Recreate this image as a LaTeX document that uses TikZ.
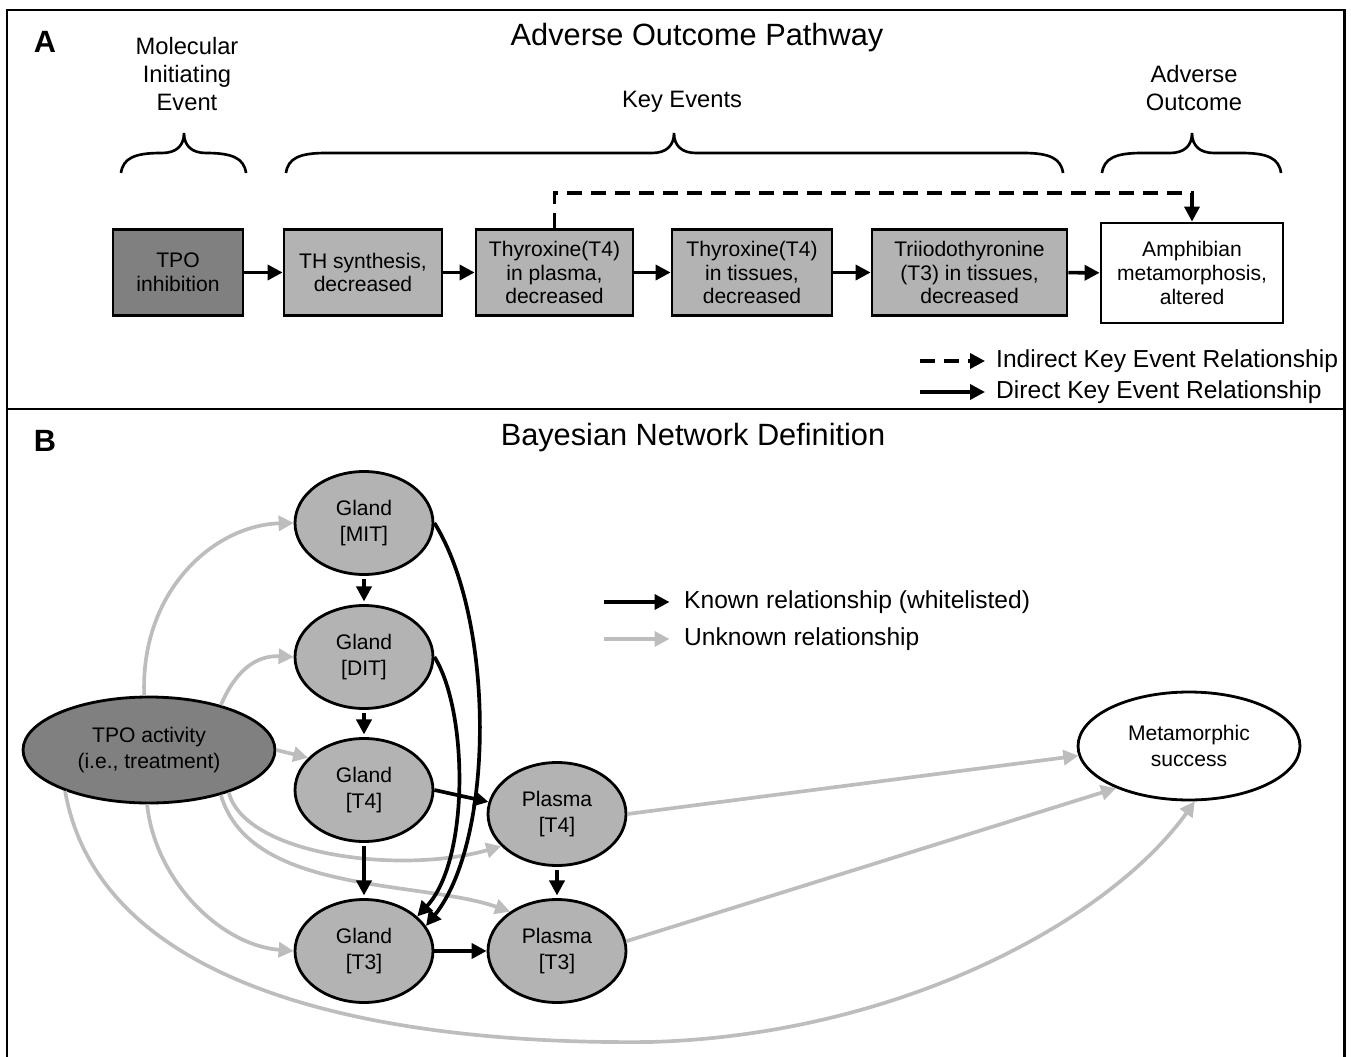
\documentclass[tikz,border=0pt]{standalone}
\usepackage{fontspec}
\setmainfont{Liberation Sans}
\usetikzlibrary{arrows.meta,shapes.geometric}
\definecolor{darkfill}{HTML}{808080}
\definecolor{lightfill}{HTML}{B3B3B3}
\definecolor{unkgray}{HTML}{BDBDBD}
% curly brace: left end, tip, right end
\newcommand{\curly}[3]{%
  \draw[line width=1.5pt] (#1,173) .. controls (#1+2,158) and (#1+14,153) .. (#1+40,153)
    -- (#2-22,153) .. controls (#2-8,153) and (#2,146) .. (#2,133)
    .. controls (#2,146) and (#2+8,153) .. (#2+22,153)
    -- (#3-40,153) .. controls (#3-14,153) and (#3-2,158) .. (#3,173);}
\begin{document}
\begin{tikzpicture}[x=0.02cm, y=-0.02cm,
    box/.style={draw, line width=1.6pt, fill=lightfill, minimum height=1.72cm, inner sep=0pt,
      align=center, font=\fontsize{12}{13.5}\selectfont},
    var/.style={draw, ellipse, line width=1.6pt, fill=lightfill, minimum width=2.76cm,
      minimum height=2.06cm, inner sep=0pt, align=center, font=\fontsize{12}{15}\selectfont},
    head/.style={align=center, font=\fontsize{13.5}{16}\selectfont},
    title/.style={font=\fontsize{17.5}{20}\selectfont},
    panel/.style={font=\bfseries\fontsize{17.5}{20}\selectfont},
    legend/.style={anchor=west, font=\fontsize{14}{16}\selectfont},
    direct/.style={line width=2pt, -{Triangle[length=0.3cm, width=0.3cm]}},
    indirect/.style={direct, dash pattern=on 0.3cm off 0.18cm},
    known/.style={line width=2.1pt, -{Triangle[length=0.3cm, width=0.3cm]}},
    unknown/.style={known, draw=unkgray}]
  \useasboundingbox (0,0) rectangle (1351,1057);
  % frame
  \draw[line width=1.7pt] (7,1062) -- (7,10) -- (1344,10) -- (1344,1062);
  \draw[line width=1.7pt] (7,409) -- (1344,409);

  % panel A
  \node[panel] (labA) at (45,42) {A};
  \node[title] (titleA) at (697,38) {Adverse Outcome Pathway};
  \node[head] (mielab) at (187,74) {Molecular\\Initiating\\Event};
  \node[head] (kelab) at (682,102) {Key Events};
  \node[head] (aolab) at (1194,88) {Adverse\\Outcome};
  \curly{121}{184}{246}
  \curly{286}{674}{1063}
  \curly{1102}{1192}{1281}

  \node[box, fill=darkfill, minimum width=2.6cm] (mie) at (178,272.5) {TPO\\inhibition};
  \node[box, minimum width=3.16cm] (thsyn) at (363,272.5) {TH synthesis,\\decreased};
  \node[box, minimum width=3.14cm] (t4plasma) at (554.5,272.5) {Thyroxine(T4)\\in plasma,\\decreased};
  \node[box, minimum width=3.2cm] (t4tissue) at (752,272.5) {Thyroxine(T4)\\in tissues,\\decreased};
  \node[box, minimum width=3.9cm] (t3tissue) at (969.5,272.5) {Triiodothyronine\\(T3) in tissues,\\decreased};
  \node[box, fill=white, minimum width=3.64cm, minimum height=2cm] (ao) at (1192,273) {Amphibian\\metamorphosis,\\altered};

  \foreach \a/\b in {mie/thsyn, thsyn/t4plasma, t4plasma/t4tissue, t4tissue/t3tissue, t3tissue/ao}
    \draw[direct] (\a) -- (\b);
  \coordinate (skip) at (555,193);
  \draw[indirect] (t4plasma.north) |- (ao.north |- skip) -- (ao.north);

  \node[legend] (lgind) at (990,361) {Indirect Key Event Relationship};
  \node[legend] (lgdir) at (990,392) {Direct Key Event Relationship};
  \coordinate (lgindstart) at (920,361);
  \coordinate (lgdirstart) at (920,392);
  \draw[indirect, shorten >=0.1cm] (lgindstart) -- (lgind.west);
  \draw[direct, shorten >=0.1cm] (lgdirstart) -- (lgdir.west);

  % panel B
  \node[panel] (labB) at (45,441) {B};
  \node[title] (titleB) at (693,438) {Bayesian Network Definition};

  \node[var] (mit) at (364,523) {Gland\\{[MIT]}};
  \node[var] (dit) at (364,657) {Gland\\{[DIT]}};
  \node[var] (gt4) at (364,790) {Gland\\{[T4]}};
  \node[var] (gt3) at (364,951) {Gland\\{[T3]}};
  \node[var] (pt4) at (557,814) {Plasma\\{[T4]}};
  \node[var] (pt3) at (557,951) {Plasma\\{[T3]}};
  \node[var, fill=darkfill, minimum width=5.04cm, minimum height=2.12cm] (tpo) at (149,750) {TPO activity\\(i.e., treatment)};
  \node[var, fill=white, minimum width=4.44cm, minimum height=2.16cm] (meta) at (1189,746) {Metamorphic\\success};

  \node[legend] (lgknown) at (678,602) {Known relationship (whitelisted)};
  \node[legend] (lgunk) at (678,639) {Unknown relationship};
  \coordinate (lgknownstart) at (604,602);
  \coordinate (lgunkstart) at (604,639);
  \draw[known, shorten >=0.17cm] (lgknownstart) -- (lgknown.west);
  \draw[unknown, shorten >=0.17cm] (lgunkstart) -- (lgunk.west);

  % unknown relationships
  \draw[unknown] (tpo.95) .. controls (140,590) and (215,525) .. (mit.west);
  \draw[unknown] (tpo.32) .. controls (235,672) and (255,655) .. (dit.west);
  \draw[unknown] (tpo.east) -- (gt4.150);
  \draw[unknown] (tpo.-28) .. controls (245,855) and (400,875) .. (pt4.210);
  \draw[unknown] (tpo.-32) .. controls (250,895) and (420,880) .. (pt3.140);
  \draw[unknown] (tpo.-92) .. controls (155,880) and (220,945) .. (gt3.west);
  \draw[unknown] (tpo.206) .. controls (100,990) and (380,1045) .. (650,1042)
    .. controls (900,1035) and (1110,920) .. (meta.-84);
  \draw[unknown] (pt4.east) -- (meta.185);
  \draw[unknown] (pt3.8) -- (meta.210);

  % known relationships
  \draw[known, shorten <=2pt, shorten >=1.5pt] (mit) -- (dit);
  \draw[known, shorten <=2pt, shorten >=1.5pt] (dit) -- (gt4);
  \draw[known, shorten <=2pt, shorten >=1.5pt] (gt4) -- (gt3);
  \draw[known, shorten <=2pt, shorten >=1.5pt] (pt4) -- (pt3);
  \draw[known] (gt4.east) -- (pt4.170);
  \draw[known] (gt3) -- (pt3);
  \draw[known] (mit.east) .. controls (495,620) and (495,840) .. (gt3.22);
  \draw[known] (dit.east) .. controls (468,710) and (470,860) .. (gt3.33);
\end{tikzpicture}
\end{document}
